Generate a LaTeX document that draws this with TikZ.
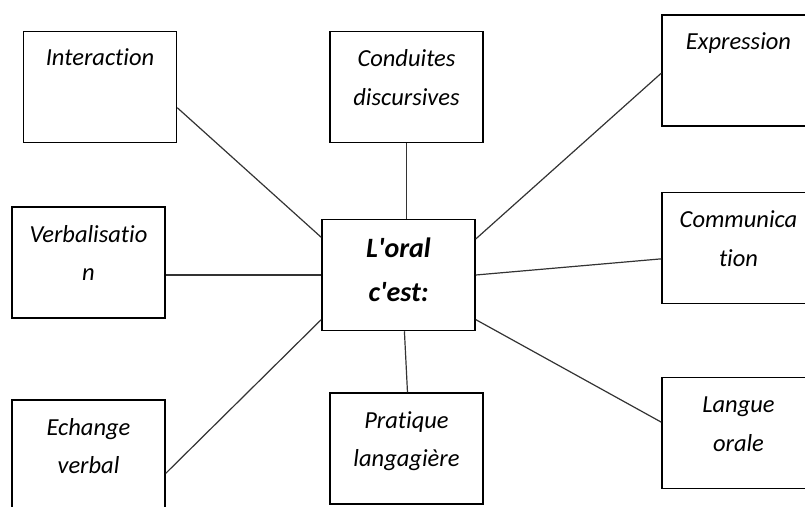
\documentclass[tikz,border=0pt]{standalone}
\usepackage{fontspec}
\newfontfamily\carlito{Carlito}[Ligatures=NoCommon]
\usepackage{tikz}
\usetikzlibrary{positioning}
\tikzstyle{block} = [rectangle, draw, line width=1.5pt, minimum width=153pt, minimum height=111pt, inner sep=0pt, font=\carlito\itshape\fontsize{24.5}{38.5}\selectfont]
\tikzstyle{mainblock} = [block, font=\carlito\bfseries\itshape\fontsize{28}{44}\selectfont]
\tikzstyle{link} = [draw, line width=1.2pt, black!80]
\newcommand{\boxtext}[2][35pt]{\parbox[c][111pt][t]{150pt}{\centering\rule{0pt}{#1}#2}}

\begin{document}
\begin{tikzpicture}[x=1pt,y=-1pt]
            \clip (0,0) rectangle (805,506);
            \node [mainblock] (oral) at (398.5,275) {\boxtext[38pt]{L'oral\\c'est:}};
            \node [block] (inter) at (100,87) {\boxtext[34pt]{Interaction}};
            \node [block] (cond) at (406.5,87) {\boxtext{Conduites\\discursives}};
            \node [block] (expr) at (738.5,70.5) {\boxtext[34pt]{Expression}};
            \node [block] (verb) at (88.5,262.5) {\boxtext{Verbalisatio\\n}};
            \node [block] (comm) at (738.5,248) {\boxtext{Communica\\tion}};
            \node [block] (echa) at (88.5,455.5) {\boxtext{Echange\\verbal}};
            \node [block] (prat) at (406.5,448.5) {\boxtext{Pratique\\langagière}};
            \node [block] (lang) at (738.5,433) {\boxtext{Langue\\orale}};

            \draw[link](inter.-15) -- (oral.154);
            \draw[link](cond.south) -- (cond.south |- oral.north);
            \draw[link](oral.25.5) -- (expr.182);
            \draw[link](oral.west) -- (oral.west -| verb.east);
            \draw[link](oral.east) -- (comm.188);
            \draw[link](oral.210) -- (echa.-13);
            \draw[link](oral.-84) -- (prat.89);
            \draw[link](oral.-30) -- (lang.172);
        \end{tikzpicture}
\end{document}
